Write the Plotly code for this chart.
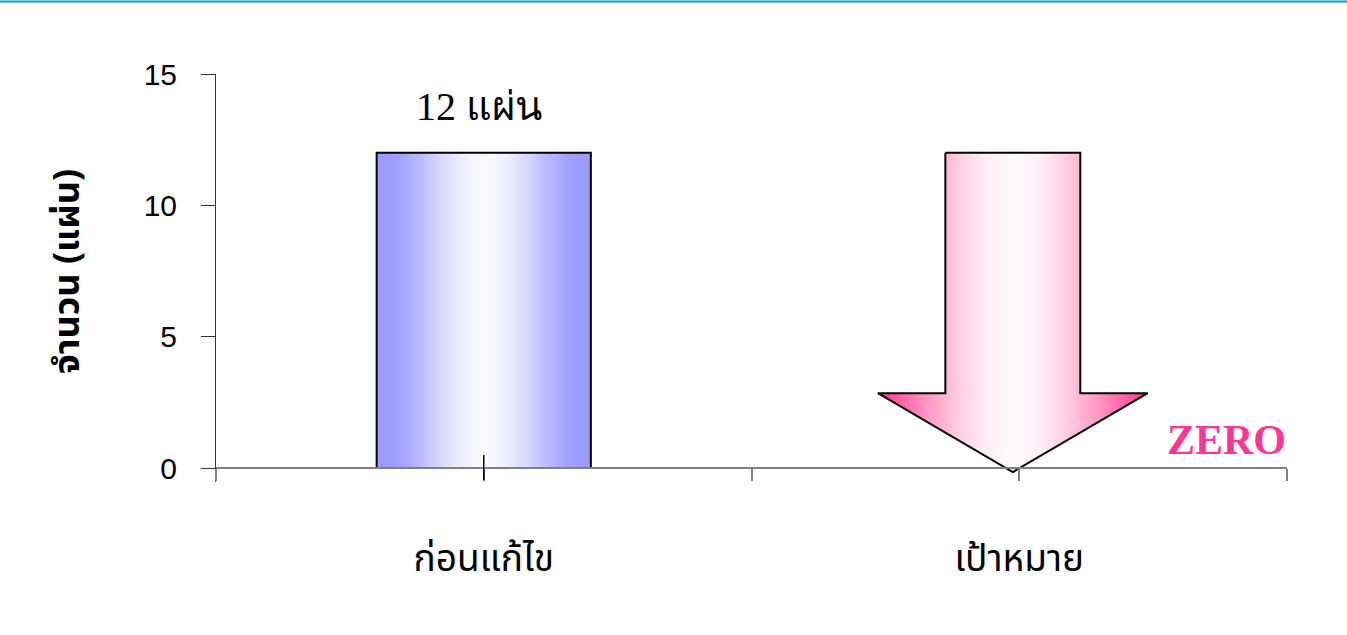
import plotly.graph_objects as go

# ---- data ----
categories = ["ก่อนแก้ไข", "เป้าหมาย"]
values = [12, 0]            # จำนวน (แผ่น)
unit = "แผ่น"
y_title = "จำนวน (แผ่น)"
target_label = "ZERO"
y_ticks = [0, 5, 10, 15]

# ---- geometry / style ----
bar_half = 0.2
y_min, y_max = -0.53, 15
zero_pos = -y_min / (y_max - y_min)

thai_font = "Noto Sans Thai, Loma, Garuda, Liberation Sans, sans-serif"

fig = go.Figure()

# gradient bar for "before"
x0 = 0
fig.add_trace(go.Scatter(
    x=[x0 - bar_half, x0 + bar_half, x0 + bar_half, x0 - bar_half, x0 - bar_half],
    y=[0, 0, values[0], values[0], 0],
    mode="lines", fill="toself",
    line=dict(color="black", width=2),
    fillgradient=dict(type="horizontal", colorscale=[
        [0, "#9999ff"], [0.1, "#9f9fff"], [0.2, "#b8b8fd"], [0.3, "#d8d8fc"],
        [0.4, "#f0f0fe"], [0.5, "#fbfbff"], [0.6, "#f0f0fe"], [0.7, "#d8d8fc"],
        [0.8, "#b8b8fd"], [0.9, "#9f9fff"], [1, "#9999ff"]]),
    hoverinfo="skip", showlegend=False,
))

# arrow for target (from before level down to target level)
xc = 0.988
shaft = 0.126
head = 0.252
shaft_bottom = 2.85
tip = values[1] - 0.15
ax = [xc - shaft, xc + shaft, xc + shaft, xc + head, xc, xc - head, xc - shaft, xc - shaft]
ay = [values[0], values[0], shaft_bottom, shaft_bottom, tip, shaft_bottom, shaft_bottom, values[0]]
fig.add_trace(go.Scatter(
    x=ax, y=ay, mode="lines", fill="toself",
    line=dict(color="black", width=2),
    fillgradient=dict(type="horizontal", colorscale=[
        [0, "#ff3399"], [0.1, "#ff6aad"], [0.2, "#ffa0c9"], [0.3, "#ffcde1"],
        [0.4, "#ffeef5"], [0.5, "#fffbfd"], [0.6, "#ffeef5"], [0.7, "#ffcde1"],
        [0.8, "#ffa0c9"], [0.9, "#ff6aad"], [1, "#ff3399"]]),
    hoverinfo="skip", showlegend=False,
))

fig.update_layout(
    width=1347, height=635,
    margin=dict(l=216, r=60, t=74, b=153),
    paper_bgcolor="white", plot_bgcolor="white",
    showlegend=False,
    xaxis=dict(
        range=[-0.5, 1.5], anchor="free", position=zero_pos,
        tickvals=[-0.5, 0, 0.5, 1, 1.5],
        ticktext=["", categories[0], "", categories[1], ""],
        ticks="outside", ticklen=12, tickwidth=1.5, tickcolor="#808080",
        showline=True, linecolor="#808080", linewidth=2,
        showgrid=False, zeroline=False,
        ticklabelstandoff=46,
        tickfont=dict(family=thai_font, size=37, color="black"),
    ),
    yaxis=dict(
        range=[y_min, y_max], tickvals=y_ticks,
        ticks="outside", ticklen=14, tickwidth=1, tickcolor="#333333",
        showline=True, linecolor="#333333", linewidth=1,
        showgrid=False, zeroline=False,
        ticklabelstandoff=18,
        tickfont=dict(family="Liberation Sans, Arial, sans-serif", size=30, color="black"),
    ),
    shapes=[
        dict(type="line", xref="paper", yref="paper", x0=-0.21, x1=1.06, y0=1.178, y1=1.178,
             line=dict(color="#00a0e0", width=2)),
        dict(type="line", xref="x", yref="y", x0=0, x1=0, y0=-0.45, y1=0.5,
             line=dict(color="black", width=1.5)),
    ],
    annotations=[
        dict(x=0, y=values[0], xref="x", yref="y", text=f"{values[0]} {unit}",
             showarrow=False, yanchor="middle", xanchor="center", yshift=46, xshift=-5,
             font=dict(family="Liberation Serif, Times New Roman, serif", size=40, color="black")),
        dict(x=1.5, y=values[1], xref="x", yref="y", text=f"<b>{target_label}</b>",
             showarrow=False, yanchor="middle", xanchor="right", yshift=28, xshift=1,
             font=dict(family="Liberation Serif, Times New Roman, serif", size=42, color="#ff3399")),
        dict(x=-0.138, y=0.517, xref="paper", yref="paper", text=f"<b>{y_title}</b>",
             showarrow=False, textangle=-90, xanchor="center", yanchor="middle",
             font=dict(family=thai_font, size=36, color="black")),
    ],
)

fig.write_html("out.html")
